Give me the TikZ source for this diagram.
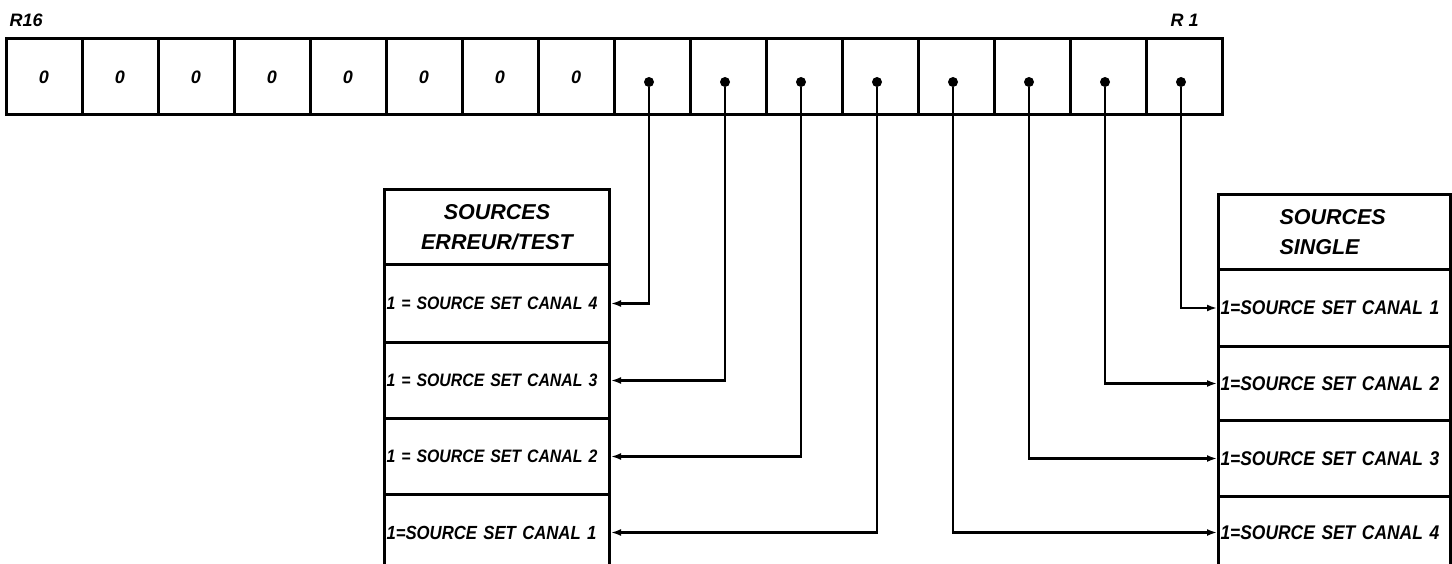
\documentclass[tikz,border=0pt]{standalone}
\usepackage{fontspec}
\setmainfont{Liberation Sans}
\newfontfamily\techfont{Liberation Sans}[FakeStretch=0.88]
\usetikzlibrary{arrows.meta,calc}
\begin{document}
\begin{tikzpicture}[x=1pt,y=-1pt,
  txt/.style={font=\techfont\fontsize{18}{20}\selectfont\bfseries\itshape},
  txtwide/.style={font=\techfont\fontsize{19.8}{20}\selectfont\bfseries\itshape},
  bigtxt/.style={font=\fontsize{18}{20}\selectfont\bfseries\itshape},
  cellbox/.style={draw,line width=3pt,minimum width=76pt,minimum height=76pt,inner sep=0pt},
  bit/.style={circle,fill,inner sep=0pt,minimum size=10pt},
  rowbox/.style={draw,line width=3pt,anchor=north west,inner xsep=2pt,inner ysep=0pt,align=left,txt},
  headbox/.style={draw,line width=3pt,anchor=north west,inner xsep=2pt,inner ysep=0pt,font=\fontsize{21.5}{30}\selectfont\bfseries\itshape},
  link/.style={line width=2.6pt,-{Latex[length=10pt,width=7pt]}}
]
\useasboundingbox (0,0) rectangle (1452,564);
% register
\foreach \i in {0,...,15} {
  \node[cellbox] (cell\i) at ({6+76*\i+38},77) {};
}
\foreach \i in {0,...,7} {
  \node[bigtxt] at (cell\i) {0};
}
\foreach \i in {8,...,15} {
  \node[bit] (dot\i) at ($(cell\i)+(-3,5)$) {};
}
\node[bigtxt,anchor=west] (r16) at (6,20) {R16};
\node[bigtxt,anchor=west] (r1) at (1167,20) {R 1};
\begin{scope}
\clip (0,0) rectangle (1452,564);
% left box
\node[headbox,text width=221pt,minimum height=75pt,align=center] (LH) at (383,188) {SOURCES\\ERREUR/TEST};
\node[rowbox,text width=221pt,minimum height=78pt] (L1) at (383,263) {1 = SOURCE SET CANAL 4};
\node[rowbox,text width=221pt,minimum height=76pt] (L2) at (383,341) {1 = SOURCE SET CANAL 3};
\node[rowbox,text width=221pt,minimum height=76pt] (L3) at (383,417) {1 = SOURCE SET CANAL 2};
\node[rowbox,text width=221pt,minimum height=76pt,font=\techfont\fontsize{19}{20}\selectfont\bfseries\itshape] (L4) at (383,493) {1=SOURCE SET CANAL 1};
% right box
\node[headbox,text width=228pt,minimum height=75pt,align=left] (RH) at (1217,193) {\hspace*{59pt}SOURCES\\\hspace*{59pt}SINGLE};
\node[rowbox,txtwide,text width=228pt,minimum height=77pt] (R1) at (1217,268) {1=SOURCE SET CANAL 1};
\node[rowbox,txtwide,text width=228pt,minimum height=74pt] (R2) at (1217,345) {1=SOURCE SET CANAL 2};
\node[rowbox,txtwide,text width=228pt,minimum height=76pt] (R3) at (1217,419) {1=SOURCE SET CANAL 3};
\node[rowbox,txtwide,text width=228pt,minimum height=72pt] (R4) at (1217,495) {1=SOURCE SET CANAL 4};
\end{scope}
% connectors
\draw[link] (dot8) |- (L1.east);
\draw[link] (dot9) |- (L2.east);
\draw[link] (dot10) |- (L3.east);
\draw[link] (dot11) |- (L4.east);
\draw[link] (dot12) |- (R4.west);
\draw[link] (dot13) |- (R3.west);
\draw[link] (dot14) |- (R2.west);
\draw[link] (dot15) |- (R1.west);
\end{tikzpicture}
\end{document}
